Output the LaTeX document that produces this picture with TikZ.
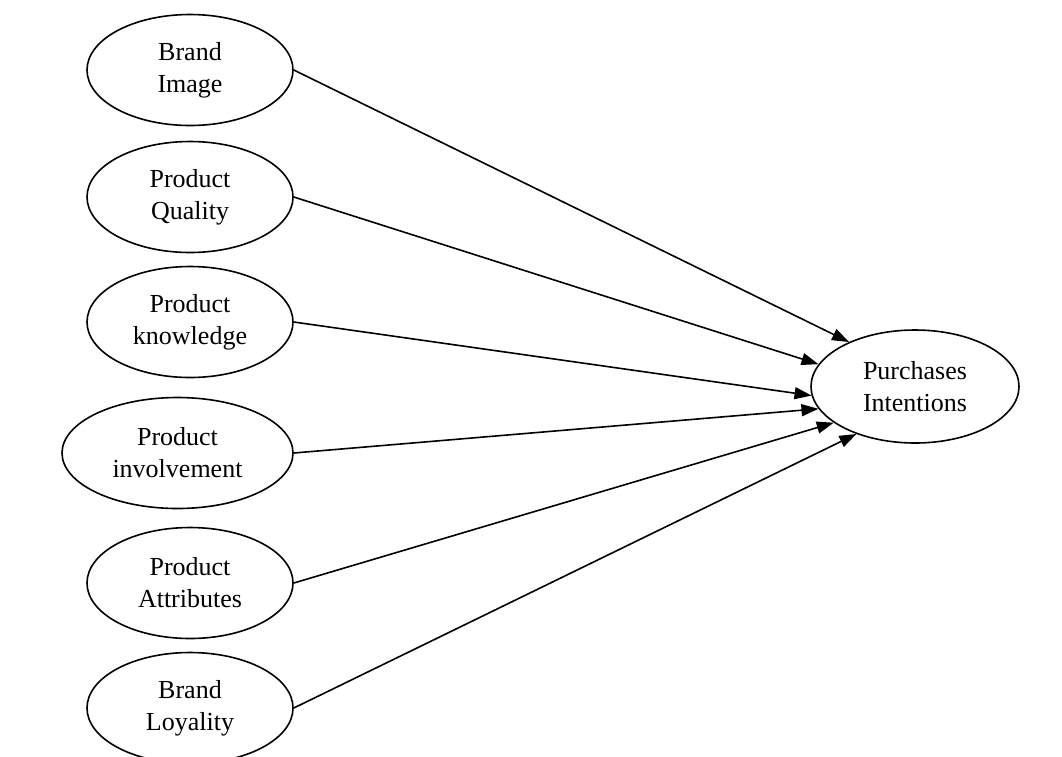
\documentclass[tikz,border=0pt]{standalone}
\usepackage{fontspec}
\setmainfont{Liberation Serif}
\usetikzlibrary{arrows.meta,shapes.geometric}
\begin{document}
\begin{tikzpicture}[x=1pt,y=-1pt,
  factor/.style={draw,ellipse,line width=1.6pt,minimum width=206pt,minimum height=111pt,
    inner sep=0pt,align=center,font=\fontsize{26}{32}\selectfont},
  link/.style={line width=1.6pt,-{Triangle[length=17pt,width=12pt]}}]
\useasboundingbox (0,0) rectangle (1062,756);
\node[factor] (bi) at (190,70) {Brand\\Image};
\node[factor] (pq) at (190,197) {Product\\Quality};
\node[factor] (pk) at (190,322) {Product\\knowledge};
\node[factor,minimum width=231pt] (pv) at (177.5,453) {Product\\involvement};
\node[factor] (pa) at (190,583) {Product\\Attributes};
\node[factor] (bl) at (190,708) {Brand\\Loyality};
\node[factor,minimum width=208pt,minimum height=113pt] (pi) at (915,386.5) {Purchases\\Intentions};
\draw[link] (bi.east) -- (pi.146.5);
\draw[link] (pq.east) -- (pi.167.7);
\draw[link] (pk.east) -- (pi.185.9);
\draw[link] (pv.east) -- (pi.193.9);
\draw[link] (pa.east) -- (pi.204.5);
\draw[link] (bl.east) -- (pi.219);
\end{tikzpicture}
\end{document}
